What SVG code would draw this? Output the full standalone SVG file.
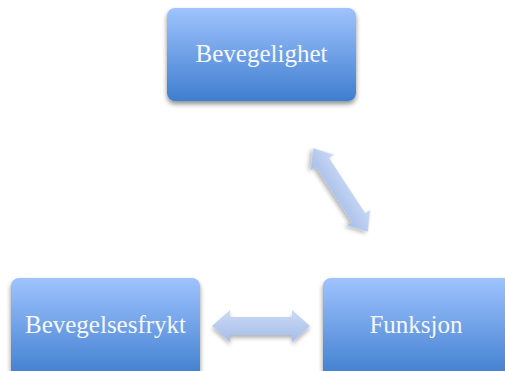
<svg xmlns="http://www.w3.org/2000/svg" width="505" height="371" viewBox="0 0 505 371">
<defs>
<linearGradient id="boxg" x1="0" y1="0" x2="0" y2="1">
<stop offset="0" stop-color="#9fc3fd"/>
<stop offset="1" stop-color="#3f7ecf"/>
</linearGradient>
<linearGradient id="arrg" x1="0" y1="0" x2="0" y2="1">
<stop offset="0" stop-color="#cbdaf5"/>
<stop offset="1" stop-color="#a6bde9"/>
</linearGradient>
<filter id="sh" x="-20%" y="-20%" width="140%" height="150%">
<feGaussianBlur in="SourceAlpha" stdDeviation="2.5"/>
<feOffset dx="0" dy="3" result="b"/>
<feComponentTransfer><feFuncA type="linear" slope="0.45"/></feComponentTransfer>
<feMerge><feMergeNode/><feMergeNode in="SourceGraphic"/></feMerge>
</filter>
<filter id="ash" x="-30%" y="-50%" width="160%" height="200%">
<feGaussianBlur in="SourceAlpha" stdDeviation="2"/>
<feOffset dx="0" dy="3" result="b"/>
<feComponentTransfer><feFuncA type="linear" slope="0.3"/></feComponentTransfer>
<feMerge><feMergeNode/><feMergeNode in="SourceGraphic"/></feMerge>
</filter>
</defs>
<style>
.box{fill:url(#boxg);filter:url(#sh)}
.lbl{font-family:"Liberation Serif","DejaVu Serif",serif;font-size:25px;fill:#f6f8ff;text-anchor:middle}
.arr{fill:url(#arrg);filter:url(#ash)}
</style>
<rect width="505" height="371" fill="#ffffff"/>
<g id="connectors">
<path class="arr" transform="translate(261,326)" d="M-49,0 L-31,-16 L-31,-9 L31,-9 L31,-16 L49,0 L31,16 L31,9 L-31,9 L-31,16 Z"/>
<path class="arr" transform="translate(340.5,190) rotate(56.8)" d="M-50,0 L-33,-14 L-33,-8 L33,-8 L33,-14 L50,0 L33,14 L33,8 L-33,8 L-33,14 Z"/>
</g>
<g id="node-bevegelighet">
<rect class="box" x="167" y="8" width="189" height="93" rx="8"/>
<text class="lbl" x="261.5" y="62">Bevegelighet</text>
</g>
<g id="node-bevegelsesfrykt">
<rect class="box" x="11" y="278" width="189" height="100" rx="8"/>
<text class="lbl" x="105.5" y="333">Bevegelsesfrykt</text>
</g>
<g id="node-funksjon">
<rect class="box" x="323" y="278" width="189" height="100" rx="8"/>
<text class="lbl" x="416" y="333">Funksjon</text>
</g>
</svg>
